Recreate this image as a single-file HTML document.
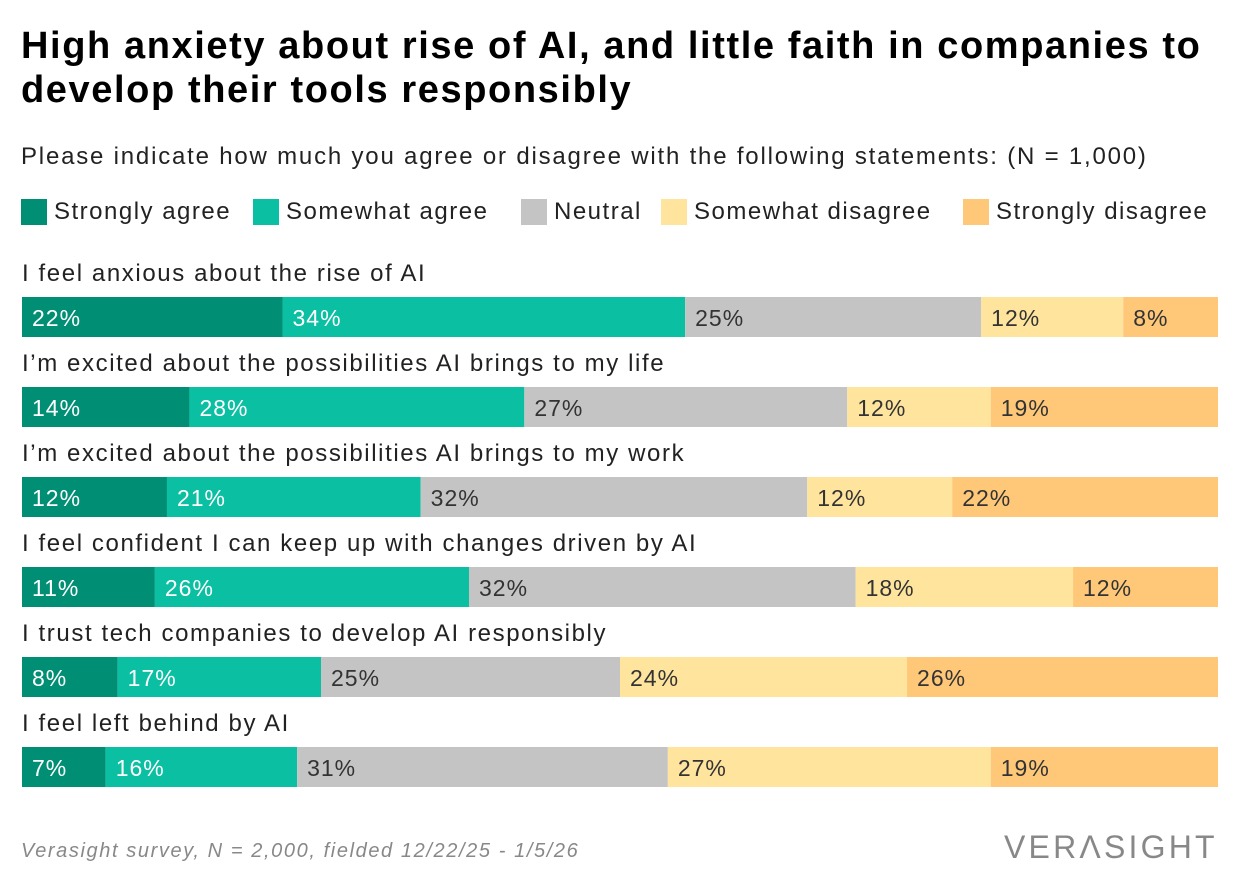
<!DOCTYPE html>
<html><head><meta charset="utf-8">
<style>
body{margin:0;background:#fff;font-family:"Liberation Sans",sans-serif;}
#wrap{position:relative;width:1240px;height:888px;overflow:hidden;}
.t{position:absolute;white-space:nowrap;}
</style></head>
<body>
<div id="wrap">
<div class="t" style="left:21px;top:24px;font-size:38px;font-weight:bold;line-height:44px;color:#000;letter-spacing:1.6px;">High anxiety about rise of AI, and little faith in companies to<br>develop their tools responsibly</div>
<div class="t" style="left:21px;top:143px;font-size:24px;color:#222;letter-spacing:1.8px;">Please indicate how much you agree or disagree with the following statements: (N = 1,000)</div>
<div id="legend"></div>
<svg id="svg" width="1240" height="888" style="position:absolute;left:0;top:0"></svg>
<div class="t" style="left:21px;top:840px;font-size:20px;font-style:italic;color:#888;letter-spacing:1.6px;">Verasight survey, N = 2,000, fielded 12/22/25 - 1/5/26</div>
<div class="t" style="left:1004px;top:829px;font-size:32px;letter-spacing:3.2px;color:#888;">VERΛSIGHT</div>
</div>
<script>
const categories=["I feel anxious about the rise of AI","I’m excited about the possibilities AI brings to my life","I’m excited about the possibilities AI brings to my work","I feel confident I can keep up with changes driven by AI","I trust tech companies to develop AI responsibly","I feel left behind by AI"];
const seriesNames=["Strongly agree","Somewhat agree","Neutral","Somewhat disagree","Strongly disagree"];
const stronglyAgree=[22,14,12,11,8,7];
const somewhatAgree=[34,28,21,26,17,16];
const neutral=[25,27,32,32,25,31];
const somewhatDisagree=[12,12,12,18,24,27];
const stronglyDisagree=[8,19,22,12,26,19];
const colors=["#008f74","#0abfa2","#c4c4c4","#fee49d","#fec878"];
const textColors=["#fff","#fff","#333","#333","#333"];
const series=[stronglyAgree,somewhatAgree,neutral,somewhatDisagree,stronglyDisagree];
const NS="http://www.w3.org/2000/svg";
const svg=document.getElementById('svg');
const x0=22,x1=1218,top0=297,step=90,bh=40;
function xScale(frac){return x0+frac*(x1-x0);}
function yRow(i){return top0+i*step;}
const leg=document.getElementById('legend');
const legX=[21,253,521,661,963];
seriesNames.forEach((n,k)=>{
  const d=document.createElement('div');d.className='t';
  
  
  d.style.cssText=`left:${legX[k]}px;top:198px;font-size:24px;color:#222;display:flex;align-items:center;letter-spacing:1.5px;`;
  d.innerHTML=`<span style="display:inline-block;width:26px;height:26px;background:${colors[k]};margin-right:7px"></span>${n}`;
  leg.appendChild(d);
});
categories.forEach((c,i)=>{
  const y=yRow(i);
  const lab=document.createElementNS(NS,'text');
  
  
  lab.setAttribute('x',22);lab.setAttribute('y',y-16);
  lab.setAttribute('font-size','24');lab.setAttribute('fill','#222');
  lab.setAttribute('letter-spacing','1.6');
  lab.textContent=c;svg.appendChild(lab);
  let tot=0;series.forEach(s=>tot+=s[i]);
  let cum=0;
  series.forEach((s,k)=>{
    const xa=xScale(cum/tot),xb=xScale((cum+s[i])/tot);cum+=s[i];
    const r=document.createElementNS(NS,'rect');
    
    
    r.setAttribute('x',xa);r.setAttribute('y',y);r.setAttribute('width',xb-xa);r.setAttribute('height',bh);
    r.setAttribute('fill',colors[k]);svg.appendChild(r);
    const t=document.createElementNS(NS,'text');
    
    
    t.setAttribute('x',xa+10);t.setAttribute('y',y+29);
    t.setAttribute('font-size','23');t.setAttribute('fill',textColors[k]);
    t.setAttribute('letter-spacing','1');
    t.textContent=s[i]+'%';svg.appendChild(t);
  });
});
</script>
</body></html>
